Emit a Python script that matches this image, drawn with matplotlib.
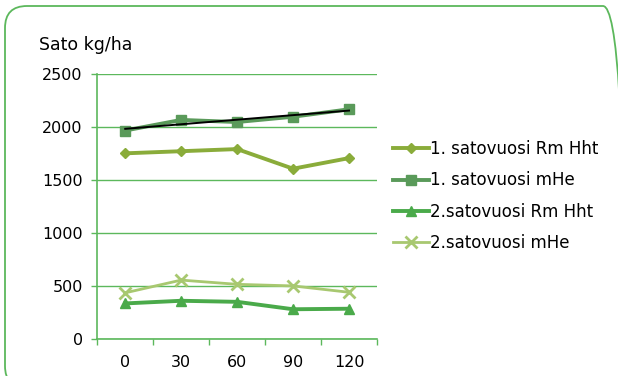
import numpy as np
import matplotlib
matplotlib.use("Agg")
import matplotlib.pyplot as plt
from matplotlib.patches import FancyBboxPatch

plt.rcParams['font.family'] = ['DejaVu Sans']

categories = ["0", "30", "60", "90", "120"]
rm_hht_1 = [1755, 1775, 1795, 1610, 1710]
mhe_1 = [1970, 2070, 2050, 2100, 2170]
rm_hht_2 = [340, 365, 355, 285, 290]
mhe_2 = [440, 560, 520, 505, 445]
labels = ["1. satovuosi Rm Hht", "1. satovuosi mHe",
          "2.satovuosi Rm Hht", "2.satovuosi mHe"]
yticks = [0, 500, 1000, 1500, 2000, 2500]

GREEN = "#5cb85c"

fig = plt.figure(figsize=(6.18, 3.76), dpi=100)
# rounded frame around the chart (inches); right and bottom edges run off the canvas
border = FancyBboxPatch((0.05, -0.12), 6.20, 3.82,
                        boxstyle="round,pad=0,rounding_size=0.22",
                        transform=fig.dpi_scale_trans, fill=False,
                        edgecolor=GREEN, linewidth=1.3, clip_on=False)
fig.patches.append(border)

ax = fig.add_axes([0.1574, 0.0971, 0.4526, 0.7053])
x = np.arange(len(categories))

ax.plot(x, rm_hht_1, color="#8aac3a", lw=2.8, marker="D", ms=5.5, label=labels[0])
ax.plot(x, mhe_1, color="#5a9a5a", lw=2.8, marker="s", ms=7.5, label=labels[1])
ax.plot(x, rm_hht_2, color="#4aaa4a", lw=2.8, marker="^", ms=7.5, label=labels[2])
ax.plot(x, mhe_2, color="#a8c870", lw=2.0, marker="x", ms=8, mew=2, label=labels[3])

# linear trend of the first-year mHe series
coef = np.polyfit(x, mhe_1, 1)
ax.plot(x, np.polyval(coef, x), color="black", lw=1.4, zorder=5)

ax.set_xlim(-0.5, len(categories) - 0.5)
ax.set_ylim(0, 2500)
ax.set_yticks(yticks)
ax.set_xticks(x)
ax.set_xticklabels(categories)
ax.set_xticks(np.arange(-0.5, len(categories)), minor=True)
ax.tick_params(axis="x", which="major", length=0, pad=11, labelsize=11.5)
ax.tick_params(axis="x", which="minor", length=4, color=GREEN, width=1)
ax.tick_params(axis="y", length=4.5, color=GREEN, width=1, labelsize=11.5, pad=6)
ax.grid(axis="y", color=GREEN, lw=1)
ax.set_axisbelow(True)
for s in ["top", "right"]:
    ax.spines[s].set_visible(False)
for s in ["left", "bottom"]:
    ax.spines[s].set_color(GREEN)
    ax.spines[s].set_linewidth(1.2)

fig.text(39 / 618, 1 - 45 / 376, "Sato kg/ha", fontsize=12.5,
         ha="left", va="center")

fig.legend(*ax.get_legend_handles_labels(), loc="center left",
           bbox_to_anchor=(393 / 618, 1 - 196 / 376), frameon=False,
           fontsize=12, handlelength=2.15, handletextpad=0.05,
           labelspacing=0.8, borderpad=0, borderaxespad=0)

fig.savefig("out.png", dpi=100)
